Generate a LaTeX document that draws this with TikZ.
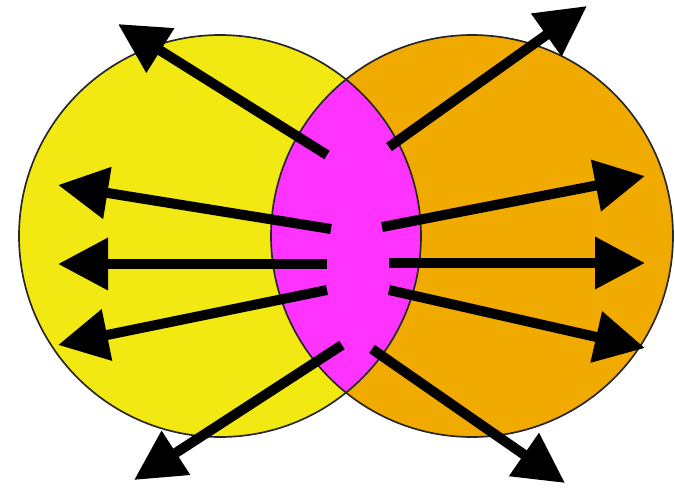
\documentclass[tikz,border=0pt]{standalone}
\usepackage{tikz}
\usetikzlibrary{arrows.meta}
\usepackage{xcolor}

\definecolor{leftfill}{RGB}{242,232,18}
\definecolor{rightfill}{RGB}{240,170,0}
\definecolor{lensfill}{RGB}{255,51,255}

\begin{document}
\begin{tikzpicture}[x=0.03cm, y=-0.03cm,
    >={Triangle[length=1.5cm, width=1.5cm]},
    rim/.style={draw=black!85, line width=0.05cm},
    ray/.style={->, line width=0.3cm}]
  \useasboundingbox (0,0) rectangle (675,494);

  %% Two overlapping sets
  \coordinate (lc) at (220,236);
  \coordinate (rc) at (472,236);
  \fill[leftfill]  (lc) circle (201);
  \fill[rightfill] (rc) circle (201);
  %% Overlap
  \begin{scope}
    \clip (lc) circle (201);
    \fill[lensfill] (rc) circle (201);
  \end{scope}
  \draw[rim] (lc) circle (201);
  \draw[rim] (rc) circle (201);

  %% Rays out of the overlap
  \foreach \n/\tx/\ty/\hx/\hy in {
      1/327/155/118/24,   2/331/229/58/185,  3/327/264/58/264,
      4/327/290/58/345,   5/342/345/134/480,
      6/389/147/587/6,    7/382/227/645/176, 8/389/263/645/263,
      9/389/290/645/348, 10/372/349/565/483}{
    \coordinate (tail\n) at (\tx,\ty);
    \coordinate (tip\n) at (\hx,\hy);
    \draw[ray] (tail\n) -- (tip\n);
  }
\end{tikzpicture}
\end{document}
